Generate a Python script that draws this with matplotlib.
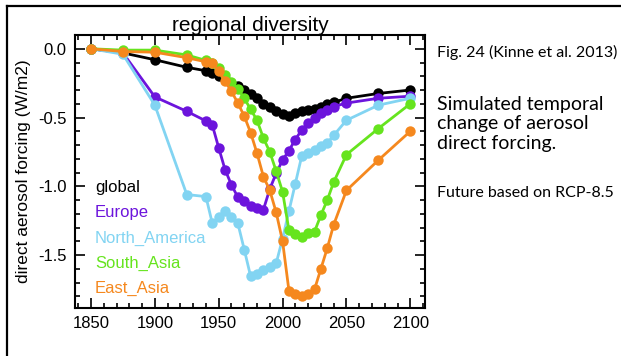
import matplotlib
matplotlib.use("Agg")
import matplotlib.pyplot as plt
from matplotlib.ticker import MultipleLocator, FormatStrFormatter
from matplotlib.lines import Line2D

plt.rcParams["font.family"] = ["Liberation Sans", "DejaVu Sans"]

years = [1850, 1875, 1900, 1925, 1940, 1945, 1950, 1955, 1960, 1965, 1970,
         1975, 1980, 1985, 1990, 1995, 2000, 2005, 2010, 2015, 2020, 2025,
         2030, 2035, 2040, 2050, 2075, 2100]

global_f = [0.0, -0.03, -0.08, -0.135, -0.16, -0.175, -0.20, -0.22, -0.25,
            -0.27, -0.30, -0.33, -0.36, -0.40, -0.425, -0.45, -0.475, -0.49,
            -0.47, -0.455, -0.445, -0.435, -0.42, -0.405, -0.39, -0.36,
            -0.325, -0.30]

europe = [0.0, -0.03, -0.35, -0.455, -0.525, -0.555, -0.72, -0.88, -0.99,
          -1.08, -1.11, -1.14, -1.16, -1.17, -1.02, -0.905, -0.81, -0.74,
          -0.66, -0.59, -0.54, -0.505, -0.47, -0.445, -0.42, -0.395, -0.36,
          -0.345]

north_america = [0.0, -0.04, -0.41, -1.06, -1.075, -1.27, -1.22, -1.18,
                 -1.22, -1.27, -1.46, -1.655, -1.635, -1.61, -1.585, -1.56,
                 -1.38, -1.18, -0.98, -0.78, -0.76, -0.735, -0.71, -0.685,
                 -0.63, -0.52, -0.41, -0.36]

south_asia = [0.0, -0.01, -0.01, -0.045, -0.085, -0.10, -0.14, -0.19, -0.24,
              -0.29, -0.36, -0.44, -0.52, -0.65, -0.75, -0.89, -1.04, -1.32,
              -1.35, -1.37, -1.34, -1.33, -1.21, -1.10, -0.97, -0.77, -0.58,
              -0.40]

east_asia = [0.0, -0.02, -0.025, -0.065, -0.095, -0.105, -0.16, -0.235,
             -0.31, -0.395, -0.49, -0.61, -0.76, -0.93, -1.03, -1.19, -1.40,
             -1.76, -1.78, -1.80, -1.78, -1.75, -1.60, -1.45, -1.28, -1.03,
             -0.81, -0.60]

region_names = ["global", "Europe", "North_America", "South_Asia", "East_Asia"]
region_values = [global_f, europe, north_america, south_asia, east_asia]
region_colors = ["#000000", "#6c14dc", "#82d4f2", "#66e41e", "#f5881e"]

W, H = 621, 356
fig = plt.figure(figsize=(W / 100, H / 100), dpi=100)

# slide frame (top and left edges)
fig.add_artist(Line2D([7 / W, 7 / W], [0, 1 - 6 / H], color="black",
                      lw=1.6, transform=fig.transFigure))
fig.add_artist(Line2D([7 / W, 1], [1 - 6 / H, 1 - 6 / H], color="black",
                      lw=1.6, transform=fig.transFigure))

ax = fig.add_axes([75 / W, 48 / H, 350 / W, 273 / H])

for vals, col in zip(region_values, region_colors):
    ax.plot(years, vals, color=col, lw=2.0, marker="o", ms=7.5,
            markeredgewidth=0, solid_joinstyle="round")

ax.set_xlim(1837.5, 2111.5)
ax.set_ylim(-1.885, 0.1)

ax.xaxis.set_major_locator(MultipleLocator(50))
ax.xaxis.set_minor_locator(MultipleLocator(10))
ax.yaxis.set_major_locator(MultipleLocator(0.5))
ax.yaxis.set_minor_locator(MultipleLocator(0.1))
ax.yaxis.set_major_formatter(FormatStrFormatter("%.1f"))

ax.tick_params(which="both", direction="in", top=True, right=True,
               width=1.2, labelsize=12, colors="black")
ax.tick_params(which="major", length=7, pad=6)
ax.tick_params(which="minor", length=3.5)
for sp in ax.spines.values():
    sp.set_linewidth(1.5)

ax.set_ylabel("direct aerosol forcing (W/m2)", fontsize=12.5, labelpad=5)
ax.set_title("regional diversity", fontsize=15, pad=3)

# legend as coloured labels, positioned in pixel units from the top-left
for i, (name, col) in enumerate(zip(region_names, region_colors)):
    fig.text(95 / W, 1 - (188 + 25 * i) / H, name, color=col, fontsize=12,
             va="center", ha="left")

side = ["Lato", "DejaVu Sans"]
fig.text(437 / W, 1 - 52 / H, "Fig. 24 (Kinne et al. 2013)", fontsize=11.5,
         family=side, va="center", ha="left")
fig.text(437 / W, 1 - 124 / H,
         "Simulated temporal\nchange of aerosol\ndirect forcing.",
         fontsize=14, family=side, va="center", ha="left", linespacing=1.15)
fig.text(437 / W, 1 - 193 / H, "Future based on RCP-8.5", fontsize=11.5,
         family=side, va="center", ha="left")

fig.savefig("out.png", dpi=100)
